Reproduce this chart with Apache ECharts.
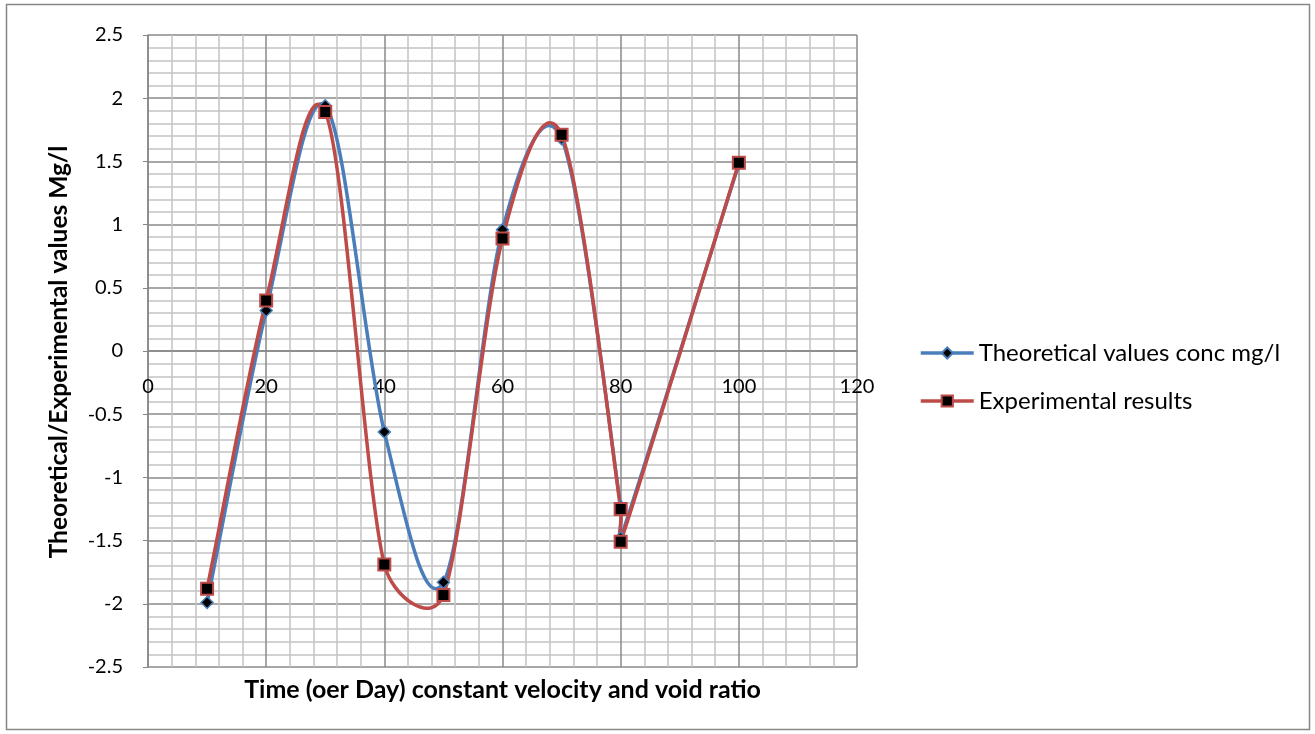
<!DOCTYPE html>
<html>
<head>
<meta charset="utf-8">
<script src="https://cdn.jsdelivr.net/npm/echarts@6/dist/echarts.min.js"></script>
<style>
html,body{margin:0;padding:0;background:#fff;}
#chart{width:1315px;height:734px;}
</style>
</head>
<body>
<div id="chart"></div>
<script>
// ---- data ----
const seriesNames = ['Theoretical values conc mg/l', 'Experimental results'];
const theoX = [10, 20, 30, 40, 50, 60, 70, 80, 80, 100];
const theoY = [-1.99, 0.32, 1.94, -0.64, -1.83, 0.96, 1.68, -1.23, -1.48, 1.48];
const expX  = [10, 20, 30, 40, 50, 60, 70, 80, 80, 100];
const expY  = [-1.88, 0.40, 1.89, -1.69, -1.93, 0.89, 1.71, -1.25, -1.51, 1.49];
const xTitle = 'Time (oer Day) constant velocity and void ratio';
const yTitle = 'Theoretical/Experimental values Mg/l';

const FONT = 'Lato, "Open Sans", sans-serif';
const BLUE = '#4A7EBB';
const RED = '#BE4B48';
const pair = (xs, ys) => xs.map((x, i) => [x, ys[i]]);
const dist = (a, b) => Math.hypot(a[0] - b[0], a[1] - b[1]);

// Office-style smoothed curve through points converted by the chart's own scales
function smoothCurveSeries(name, xs, ys, color) {
  return {
    name: name, type: 'custom', coordinateSystem: 'cartesian2d', silent: true,
    xAxisIndex: 0, yAxisIndex: 0,
    data: pair(xs, ys), encode: {x: 0, y: 1},
    renderItem: function (params, api) {
      if (params.dataIndex !== 0) return null;
      const pts = xs.map((x, i) => api.coord([x, ys[i]]));
      let d = 'M' + pts[0][0] + ',' + pts[0][1];
      for (let i = 0; i < pts.length - 1; i++) {
        const p1 = pts[i];
        const p2 = pts[i + 1];
        const first = i === 0, last = i + 2 >= pts.length;
        const p0 = first ? p1 : pts[i - 1];
        const p3 = last ? p2 : pts[i + 2];
        const d12 = dist(p1, p2), d02 = dist(p0, p2), d13 = dist(p1, p3);
        let f = first ? 1 / 3 : 1 / 6;
        let g = last ? 1 / 3 : 1 / 6;
        if (d02 > 0 && d02 * f > d12 / 2) f = d12 / 2 / d02;
        if (d13 > 0 && d13 * g > d12 / 2) g = d12 / 2 / d13;
        const c1x = p1[0] + (p2[0] - p0[0]) * f, c1y = p1[1] + (p2[1] - p0[1]) * f;
        const c2x = p2[0] - (p3[0] - p1[0]) * g, c2y = p2[1] - (p3[1] - p1[1]) * g;
        d += ' C' + c1x + ',' + c1y + ' ' + c2x + ',' + c2y + ' ' + p2[0] + ',' + p2[1];
      }
      return {
        type: 'path',
        shape: {pathData: d},
        style: {fill: null, stroke: color, lineWidth: 3.5, lineJoin: 'round', lineCap: 'round'}
      };
    }
  };
}

const chart = echarts.init(document.getElementById('chart'), null, {renderer: 'canvas'});
chart.setOption({
  animation: false,
  backgroundColor: '#fff',
  grid: {left: 148, right: 458, top: 35, bottom: 67, containLabel: false},
  legend: {
    orient: 'vertical', left: 914, top: 336,
    itemWidth: 53, itemHeight: 14, itemGap: 24,
    textStyle: {fontFamily: FONT, fontSize: 24, color: '#000'},
    lineStyle: {opacity: 1, width: 3.5},
    data: seriesNames
  },
  xAxis: {
    type: 'value', min: 0, max: 120, interval: 20,
    position: 'bottom', offset: -316,
    axisLine: {show: true, onZero: false, lineStyle: {color: '#868686', width: 1.5}},
    axisTick: {show: false},
    axisLabel: {fontFamily: FONT, fontSize: 20, color: '#000', margin: 26},
    splitLine: {show: true, lineStyle: {color: '#8a8a8a', width: 1.5}},
    minorTick: {show: false, splitNumber: 5},
    minorSplitLine: {show: true, lineStyle: {color: '#c4c4c4', width: 1.5}}
  },
  yAxis: {
    type: 'value', min: -2.5, max: 2.5, interval: 0.5,
    axisLine: {show: true, onZero: false, lineStyle: {color: '#868686', width: 1.5}},
    axisTick: {show: true, inside: false, length: 5, lineStyle: {color: '#868686'}},
    axisLabel: {fontFamily: FONT, fontSize: 20, color: '#000', margin: 25},
    splitLine: {show: true, lineStyle: {color: '#8a8a8a', width: 1.5}},
    minorTick: {show: false, splitNumber: 5},
    minorSplitLine: {show: true, lineStyle: {color: '#c4c4c4', width: 1.5}}
  },
  series: [
    smoothCurveSeries('curve-theoretical', theoX, theoY, BLUE),
    smoothCurveSeries('curve-experimental', expX, expY, RED),
    {
      name: seriesNames[0], type: 'line',
      data: pair(theoX, theoY),
      symbol: 'diamond', symbolSize: 12, showAllSymbol: true,
      lineStyle: {color: BLUE, width: 3.5, opacity: 0},
      itemStyle: {color: '#000', borderColor: BLUE, borderWidth: 1.5}
    }, {
      name: seriesNames[1], type: 'line',
      data: pair(expX, expY),
      symbol: 'rect', symbolSize: 12, showAllSymbol: true,
      lineStyle: {color: RED, width: 3.5, opacity: 0},
      itemStyle: {color: '#000', borderColor: RED, borderWidth: 2}
    }
  ],
  graphic: [{
    type: 'rect', silent: true, z: -1,
    shape: {x: 6.5, y: 4.5, width: 1303, height: 725},
    style: {fill: null, stroke: '#868686', lineWidth: 1.5}
  }, {
    type: 'text', silent: true, x: 502.5, y: 690,
    style: {text: xTitle, fontFamily: FONT, fontSize: 25, fontWeight: 'bold', fill: '#000',
            align: 'center', verticalAlign: 'middle'}
  }, {
    type: 'text', silent: true, x: 59, y: 352, rotation: Math.PI / 2,
    style: {text: yTitle, fontFamily: FONT, fontSize: 24.5, fontWeight: 'bold', fill: '#000',
            align: 'center', verticalAlign: 'middle'}
  }]
});
</script>
</body>
</html>
